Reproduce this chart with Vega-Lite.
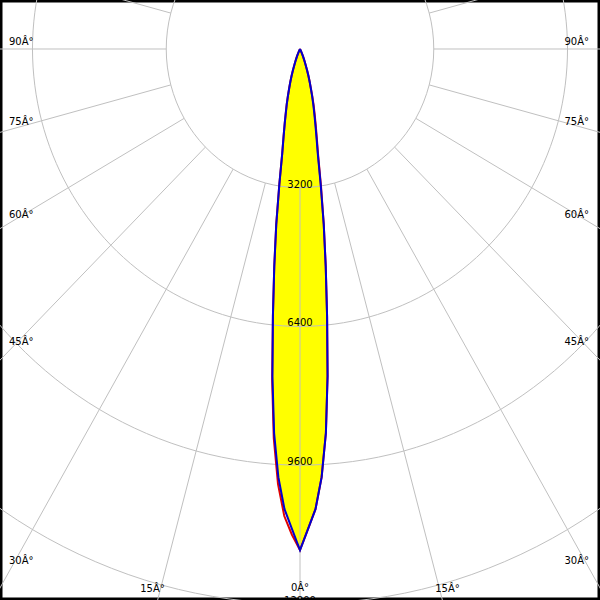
{
  "$schema": "https://vega.github.io/schema/vega-lite/v6.json",
  "width": 600,
  "height": 600,
  "autosize": {"type": "fit", "contains": "padding"},
  "padding": 0,
  "background": "white",
  "view": {"stroke": "black", "strokeWidth": 5},
  "config": {"text": {"font": "DejaVu Sans", "fontSize": 10, "color": "black"}},
  "datasets": {
    "curve": [
      {"s":"B","a":-90,"i":0},{"s":"B","a":-80,"i":0},{"s":"B","a":-70,"i":0},{"s":"B","a":-60,"i":0},{"s":"B","a":-50,"i":0},{"s":"B","a":-40,"i":0},{"s":"B","a":-30,"i":10},
      {"s":"B","a":-25,"i":50},{"s":"B","a":-24,"i":100},{"s":"B","a":-23,"i":180},{"s":"B","a":-22,"i":245},{"s":"B","a":-21,"i":320},{"s":"B","a":-20,"i":395},{"s":"B","a":-19,"i":520},{"s":"B","a":-18,"i":655},{"s":"B","a":-17,"i":790},{"s":"B","a":-16,"i":935},{"s":"B","a":-15,"i":1110},{"s":"B","a":-14,"i":1310},{"s":"B","a":-13,"i":1510},{"s":"B","a":-12,"i":1760},{"s":"B","a":-11,"i":2060},{"s":"B","a":-10,"i":2450},{"s":"B","a":-9,"i":3160},{"s":"B","a":-8,"i":4080},{"s":"B","a":-7,"i":5050},{"s":"B","a":-6,"i":6200},{"s":"B","a":-5,"i":7570},{"s":"B","a":-4,"i":8880},{"s":"B","a":-3,"i":9890},{"s":"B","a":-2,"i":10620},{"s":"B","a":-1,"i":11070},
      {"s":"B","a":0,"i":11560},
      {"s":"B","a":1,"i":11070},{"s":"B","a":2,"i":10620},{"s":"B","a":3,"i":9890},{"s":"B","a":4,"i":8880},{"s":"B","a":5,"i":7570},{"s":"B","a":6,"i":6200},{"s":"B","a":7,"i":5050},{"s":"B","a":8,"i":4080},{"s":"B","a":9,"i":3160},{"s":"B","a":10,"i":2450},{"s":"B","a":11,"i":2060},{"s":"B","a":12,"i":1760},{"s":"B","a":13,"i":1510},{"s":"B","a":14,"i":1310},{"s":"B","a":15,"i":1110},{"s":"B","a":16,"i":935},{"s":"B","a":17,"i":790},{"s":"B","a":18,"i":655},{"s":"B","a":19,"i":520},{"s":"B","a":20,"i":395},{"s":"B","a":21,"i":320},{"s":"B","a":22,"i":245},{"s":"B","a":23,"i":180},{"s":"B","a":24,"i":100},{"s":"B","a":25,"i":50},
      {"s":"B","a":30,"i":10},{"s":"B","a":40,"i":0},{"s":"B","a":50,"i":0},{"s":"B","a":60,"i":0},{"s":"B","a":70,"i":0},{"s":"B","a":80,"i":0},{"s":"B","a":90,"i":0},

      {"s":"R","a":-90,"i":0},{"s":"R","a":-80,"i":0},{"s":"R","a":-70,"i":0},{"s":"R","a":-60,"i":0},{"s":"R","a":-50,"i":0},{"s":"R","a":-40,"i":0},{"s":"R","a":-30,"i":10},
      {"s":"R","a":-25,"i":50},{"s":"R","a":-24,"i":100},{"s":"R","a":-23,"i":180},{"s":"R","a":-22,"i":245},{"s":"R","a":-21,"i":320},{"s":"R","a":-20,"i":395},{"s":"R","a":-19,"i":520},{"s":"R","a":-18,"i":655},{"s":"R","a":-17,"i":790},{"s":"R","a":-16,"i":935},{"s":"R","a":-15,"i":1110},{"s":"R","a":-14,"i":1310},{"s":"R","a":-13,"i":1510},{"s":"R","a":-12,"i":1760},{"s":"R","a":-11,"i":2060},{"s":"R","a":-10,"i":2450},{"s":"R","a":-9,"i":3160},{"s":"R","a":-8,"i":4080},{"s":"R","a":-7,"i":5050},{"s":"R","a":-6,"i":6200},{"s":"R","a":-5,"i":7650},{"s":"R","a":-4,"i":9000},{"s":"R","a":-3,"i":10050},{"s":"R","a":-2,"i":10780},{"s":"R","a":-1,"i":11200},
      {"s":"R","a":0,"i":11560},
      {"s":"R","a":1,"i":11070},{"s":"R","a":2,"i":10620},{"s":"R","a":3,"i":9890},{"s":"R","a":4,"i":8880},{"s":"R","a":5,"i":7570},{"s":"R","a":6,"i":6200},{"s":"R","a":7,"i":5050},{"s":"R","a":8,"i":4080},{"s":"R","a":9,"i":3220},{"s":"R","a":10,"i":2510},{"s":"R","a":11,"i":2120},{"s":"R","a":12,"i":1820},{"s":"R","a":13,"i":1570},{"s":"R","a":14,"i":1360},{"s":"R","a":15,"i":1150},{"s":"R","a":16,"i":935},{"s":"R","a":17,"i":790},{"s":"R","a":18,"i":655},{"s":"R","a":19,"i":520},{"s":"R","a":20,"i":395},{"s":"R","a":21,"i":320},{"s":"R","a":22,"i":245},{"s":"R","a":23,"i":180},{"s":"R","a":24,"i":100},{"s":"R","a":25,"i":50},
      {"s":"R","a":30,"i":10},{"s":"R","a":40,"i":0},{"s":"R","a":50,"i":0},{"s":"R","a":60,"i":0},{"s":"R","a":70,"i":0},{"s":"R","a":80,"i":0},{"s":"R","a":90,"i":0}
    ],
    "grid": [
      {"a":-180,"r":[3200,6400,9600,12800]},{"a":-165,"r":[3200,6400,9600,12800]},{"a":-150,"r":[3200,6400,9600,12800]},{"a":-135,"r":[3200,6400,9600,12800]},{"a":-120,"r":[3200,6400,9600,12800]},{"a":-105,"r":[3200,6400,9600,12800]},{"a":-90,"r":[3200,6400,9600,12800]},{"a":-75,"r":[3200,6400,9600,12800]},{"a":-60,"r":[3200,6400,9600,12800]},{"a":-45,"r":[3200,6400,9600,12800]},{"a":-30,"r":[3200,6400,9600,12800]},{"a":-15,"r":[3200,6400,9600,12800]},{"a":0,"r":[3200,6400,9600,12800]},{"a":15,"r":[3200,6400,9600,12800]},{"a":30,"r":[3200,6400,9600,12800]},{"a":45,"r":[3200,6400,9600,12800]},{"a":60,"r":[3200,6400,9600,12800]},{"a":75,"r":[3200,6400,9600,12800]},{"a":90,"r":[3200,6400,9600,12800]},{"a":105,"r":[3200,6400,9600,12800]},{"a":120,"r":[3200,6400,9600,12800]},{"a":135,"r":[3200,6400,9600,12800]},{"a":150,"r":[3200,6400,9600,12800]},{"a":165,"r":[3200,6400,9600,12800]}
    ],
    "ringlabels": [{"r":3200},{"r":6400},{"r":9600},{"r":12800}],
    "anglelabels": [
      {"t":"90Â°","p":"L","x":-6962,"y":-161},{"t":"75Â°","p":"L","x":-6962,"y":1684},{"t":"60Â°","p":"L","x":-6962,"y":3829},{"t":"45Â°","p":"L","x":-6962,"y":6759},{"t":"30Â°","p":"L","x":-6962,"y":11811},
      {"t":"90Â°","p":"R","x":6914,"y":-161},{"t":"75Â°","p":"R","x":6914,"y":1684},{"t":"60Â°","p":"R","x":6914,"y":3829},{"t":"45Â°","p":"R","x":6914,"y":6759},{"t":"30Â°","p":"R","x":6914,"y":11811},
      {"t":"15Â°","p":"C","x":-3529,"y":12457},{"t":"0Â°","p":"C","x":0,"y":12434},{"t":"15Â°","p":"C","x":3529,"y":12457}
    ]
  },
  "layer": [
    {
      "data": {"name": "curve"},
      "transform": [
        {"filter": "datum.s == 'B'"},
        {"calculate": "datum.i*sin(datum.a*PI/180)", "as": "x"},
        {"calculate": "datum.i*cos(datum.a*PI/180)", "as": "y"}
      ],
      "mark": {"type": "line", "fill": "#ffff00", "strokeOpacity": 0, "clip": true},
      "encoding": {
        "x": {"field": "x", "type": "quantitative", "scale": {"domain": [-7177, 7177], "nice": false, "zero": false}, "axis": null},
        "y": {"field": "y", "type": "quantitative", "scale": {"domain": [-1130, 12710], "nice": false, "zero": false, "reverse": true}, "axis": null},
        "order": {"field": "a", "type": "quantitative"}
      }
    },
    {
      "data": {"name": "grid"},
      "transform": [
        {"flatten": ["r"]},
        {"calculate": "datum.r*sin(datum.a*PI/180)", "as": "x"},
        {"calculate": "datum.r*cos(datum.a*PI/180)", "as": "y"}
      ],
      "mark": {"type": "line", "interpolate": "cardinal-closed", "tension": 0, "stroke": "#c0c0c0", "strokeWidth": 1, "clip": true},
      "encoding": {
        "x": {"field": "x", "type": "quantitative", "scale": {"domain": [-7177, 7177], "nice": false, "zero": false}, "axis": null},
        "y": {"field": "y", "type": "quantitative", "scale": {"domain": [-1130, 12710], "nice": false, "zero": false, "reverse": true}, "axis": null},
        "detail": {"field": "r", "type": "nominal"},
        "order": {"field": "a", "type": "quantitative"}
      }
    },
    {
      "data": {"name": "grid"},
      "transform": [
        {"calculate": "3200*sin(datum.a*PI/180)", "as": "x"},
        {"calculate": "3200*cos(datum.a*PI/180)", "as": "y"},
        {"calculate": "20000*sin(datum.a*PI/180)", "as": "x2"},
        {"calculate": "20000*cos(datum.a*PI/180)", "as": "y2"}
      ],
      "mark": {"type": "rule", "stroke": "#c0c0c0", "strokeWidth": 1, "clip": true},
      "encoding": {
        "x": {"field": "x", "type": "quantitative", "scale": {"domain": [-7177, 7177], "nice": false, "zero": false}, "axis": null},
        "y": {"field": "y", "type": "quantitative", "scale": {"domain": [-1130, 12710], "nice": false, "zero": false, "reverse": true}, "axis": null},
        "x2": {"field": "x2"},
        "y2": {"field": "y2"}
      }
    },
    {
      "data": {"name": "curve"},
      "transform": [
        {"filter": "datum.s == 'R'"},
        {"calculate": "datum.i*sin(datum.a*PI/180)", "as": "x"},
        {"calculate": "datum.i*cos(datum.a*PI/180)", "as": "y"}
      ],
      "mark": {"type": "line", "stroke": "#e00000", "strokeWidth": 2, "clip": true},
      "encoding": {
        "x": {"field": "x", "type": "quantitative", "scale": {"domain": [-7177, 7177], "nice": false, "zero": false}, "axis": null},
        "y": {"field": "y", "type": "quantitative", "scale": {"domain": [-1130, 12710], "nice": false, "zero": false, "reverse": true}, "axis": null},
        "order": {"field": "a", "type": "quantitative"}
      }
    },
    {
      "data": {"name": "curve"},
      "transform": [
        {"filter": "datum.s == 'B'"},
        {"calculate": "datum.i*sin(datum.a*PI/180)", "as": "x"},
        {"calculate": "datum.i*cos(datum.a*PI/180)", "as": "y"}
      ],
      "mark": {"type": "line", "stroke": "#0000d0", "strokeWidth": 2, "clip": true},
      "encoding": {
        "x": {"field": "x", "type": "quantitative", "scale": {"domain": [-7177, 7177], "nice": false, "zero": false}, "axis": null},
        "y": {"field": "y", "type": "quantitative", "scale": {"domain": [-1130, 12710], "nice": false, "zero": false, "reverse": true}, "axis": null},
        "order": {"field": "a", "type": "quantitative"}
      }
    },
    {
      "data": {"name": "ringlabels"},
      "mark": {"type": "text", "align": "center", "baseline": "alphabetic", "clip": true},
      "encoding": {
        "x": {"datum": 0, "type": "quantitative", "scale": {"domain": [-7177, 7177], "nice": false, "zero": false}, "axis": null},
        "y": {"field": "r", "type": "quantitative", "scale": {"domain": [-1130, 12710], "nice": false, "zero": false, "reverse": true}, "axis": null},
        "text": {"field": "r", "type": "nominal"}
      }
    },
    {
      "data": {"name": "anglelabels"},
      "transform": [{"filter": "datum.p == 'L'"}],
      "mark": {"type": "text", "align": "left", "baseline": "middle"},
      "encoding": {
        "x": {"field": "x", "type": "quantitative", "scale": {"domain": [-7177, 7177], "nice": false, "zero": false}, "axis": null},
        "y": {"field": "y", "type": "quantitative", "scale": {"domain": [-1130, 12710], "nice": false, "zero": false, "reverse": true}, "axis": null},
        "text": {"field": "t", "type": "nominal"}
      }
    },
    {
      "data": {"name": "anglelabels"},
      "transform": [{"filter": "datum.p == 'R'"}],
      "mark": {"type": "text", "align": "right", "baseline": "middle"},
      "encoding": {
        "x": {"field": "x", "type": "quantitative", "scale": {"domain": [-7177, 7177], "nice": false, "zero": false}, "axis": null},
        "y": {"field": "y", "type": "quantitative", "scale": {"domain": [-1130, 12710], "nice": false, "zero": false, "reverse": true}, "axis": null},
        "text": {"field": "t", "type": "nominal"}
      }
    },
    {
      "data": {"name": "anglelabels"},
      "transform": [{"filter": "datum.p == 'C'"}],
      "mark": {"type": "text", "align": "center", "baseline": "middle"},
      "encoding": {
        "x": {"field": "x", "type": "quantitative", "scale": {"domain": [-7177, 7177], "nice": false, "zero": false}, "axis": null},
        "y": {"field": "y", "type": "quantitative", "scale": {"domain": [-1130, 12710], "nice": false, "zero": false, "reverse": true}, "axis": null},
        "text": {"field": "t", "type": "nominal"}
      }
    }
  ]
}
